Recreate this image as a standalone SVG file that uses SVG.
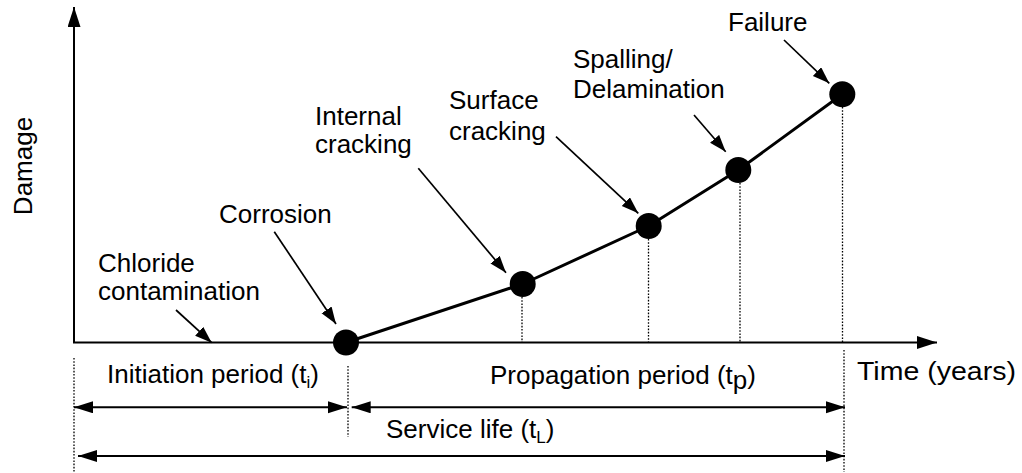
<svg xmlns="http://www.w3.org/2000/svg" width="1022" height="473" viewBox="0 0 1022 473">
<defs>
<style>
text{font-family:"Liberation Sans",Arial,Helvetica,sans-serif;font-size:26px;fill:#000}
.axis{stroke:#000;stroke-width:2;fill:none}
.dim{stroke:#000;stroke-width:2;fill:none}
.lead{stroke:#000;stroke-width:1.7;fill:none}
.curve{stroke:#000;stroke-width:3;fill:none;stroke-linejoin:round}
.dot{stroke:#000;stroke-width:1.3;stroke-dasharray:1.6 1.6;fill:none}
.pt{fill:#000}
</style>
<marker id="ax" markerUnits="userSpaceOnUse" markerWidth="21" markerHeight="14" refX="20" refY="6.5" orient="auto"><path d="M0,0 L20,6.5 L0,13 z" fill="#000"/></marker>
<marker id="ld" markerUnits="userSpaceOnUse" markerWidth="18" markerHeight="13" refX="17" refY="6" orient="auto"><path d="M0,0 L17,6 L0,12 z" fill="#000"/></marker>
<marker id="dm" markerUnits="userSpaceOnUse" markerWidth="20" markerHeight="13" refX="19" refY="6" orient="auto-start-reverse"><path d="M0,0 L19,6 L0,12 z" fill="#000"/></marker>
</defs>
<rect width="1022" height="473" fill="#fff"/>

<g id="axes">
<line class="axis" x1="74" y1="343" x2="74" y2="7" marker-end="url(#ax)"/>
<line class="axis" x1="73" y1="342.5" x2="937" y2="342.5" marker-end="url(#ax)"/>
<text transform="translate(32,166) rotate(-90)" text-anchor="middle" font-size="28">Damage</text>
<text x="857" y="380" textLength="159" lengthAdjust="spacingAndGlyphs">Time (years)</text>
</g>

<g id="guides">
<line class="dot" x1="522" y1="297" x2="522" y2="342"/>
<line class="dot" x1="648.5" y1="239" x2="648.5" y2="342"/>
<line class="dot" x1="740" y1="183" x2="740" y2="342"/>
<line class="dot" x1="842.5" y1="107" x2="842.5" y2="342"/>
<line class="dot" x1="844" y1="350" x2="844" y2="472"/>
<line class="dot" x1="74" y1="358" x2="74" y2="472"/>
<line class="dot" x1="348" y1="366" x2="348" y2="437"/>
</g>

<g id="connectors">
<polyline class="curve" points="346,342.5 522.7,284 648.7,226 738.3,170 842.3,94.3"/>
<line class="lead" x1="176" y1="310" x2="211.7" y2="342.7" marker-end="url(#ld)"/>
<line class="lead" x1="274.3" y1="231.7" x2="336" y2="324" marker-end="url(#ld)"/>
<line class="lead" x1="418.3" y1="168.3" x2="506" y2="272.7" marker-end="url(#ld)"/>
<line class="lead" x1="556" y1="136.7" x2="638.3" y2="213.3" marker-end="url(#ld)"/>
<line class="lead" x1="694" y1="115" x2="725.7" y2="151.7" marker-end="url(#ld)"/>
<line class="lead" x1="784" y1="40" x2="829.3" y2="83.3" marker-end="url(#ld)"/>
</g>

<g id="chloride">
<text x="98" y="272">Chloride</text>
<text x="98" y="300">contamination</text>
</g>
<g id="corrosion">
<circle class="pt" cx="346" cy="342.5" r="13"/>
<text x="219" y="223">Corrosion</text>
</g>
<g id="internal-cracking">
<circle class="pt" cx="522.7" cy="284" r="13"/>
<text x="315" y="125">Internal</text>
<text x="315" y="153">cracking</text>
</g>
<g id="surface-cracking">
<circle class="pt" cx="648.7" cy="226" r="13"/>
<text x="449" y="109">Surface</text>
<text x="449" y="140">cracking</text>
</g>
<g id="spalling">
<circle class="pt" cx="738.3" cy="170" r="13"/>
<text x="573" y="68">Spalling/</text>
<text x="573" y="98">Delamination</text>
</g>
<g id="failure">
<circle class="pt" cx="842.3" cy="94.3" r="13"/>
<text x="728" y="31">Failure</text>
</g>

<g id="initiation-period">
<line class="dim" x1="74" y1="407.3" x2="347" y2="407.3" marker-start="url(#dm)" marker-end="url(#dm)"/>
<text x="107" y="383">Initiation period (t<tspan font-size="17" dy="5">i</tspan><tspan dy="-5">)</tspan></text>
</g>
<g id="propagation-period">
<line class="dim" x1="351.7" y1="407.3" x2="845" y2="407.3" marker-start="url(#dm)" marker-end="url(#dm)"/>
<text x="490" y="384">Propagation period (t<tspan dy="5">p</tspan><tspan dy="-5">)</tspan></text>
</g>
<g id="service-life">
<line class="dim" x1="78" y1="456" x2="845" y2="456" marker-start="url(#dm)" marker-end="url(#dm)"/>
<text x="386" y="438">Service life (t<tspan font-size="17" dy="5">L</tspan><tspan dy="-5">)</tspan></text>
</g>
</svg>
